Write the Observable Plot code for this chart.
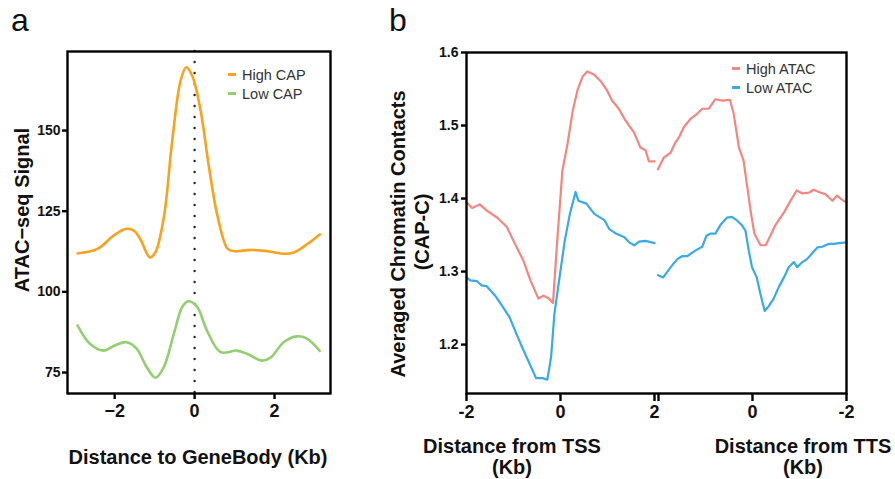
<!DOCTYPE html>
<html>
<head>
<meta charset="utf-8">
<script src="https://cdn.jsdelivr.net/npm/d3@7"></script>
<script src="https://cdn.jsdelivr.net/npm/@observablehq/plot@0.6"></script>
<style>
  body { margin: 0; background: #fff; font-family: "Liberation Sans", Arial, sans-serif; }
  #wrap { position: relative; width: 895px; height: 479px; overflow: hidden; background: #fff; }
  .panel { position: absolute; top: 0; }
  .txt { position: absolute; white-space: nowrap; color: #111; line-height: 1; }
  .bold { font-weight: bold; font-size: 20px; }
  .center { transform: translate(-50%, -50%); }
  .rot { transform: translate(-50%, -50%) rotate(-90deg); }
  .tag { font-size: 32px; font-weight: normal; }
  .leg { position: absolute; font-size: 14.5px; color: #333; }
  .leg .row { display: flex; align-items: center; height: 19px; }
  .leg .sw { display: inline-block; width: 8px; height: 2.5px; margin-right: 6px; }
</style>
</head>
<body>
<div id="wrap"></div>
<script>
// ---------- Panel a data ----------
const seriesA = ["High CAP", "Low CAP"];
const colorsA = ["#FAA21E", "#93CF70"];
const highCapX = [-2.93,-2.43,-2.02,-1.73,-1.52,-1.36,-1.12,-0.98,-0.77,-0.56,-0.35,-0.21,-0.06,0.15,0.36,0.58,0.83,1.0,1.42,1.83,2.25,2.5,2.83,3.13];
const highCapY = [111.9,113.3,117.5,119.5,119.0,116.4,110.7,112.3,123.1,146.9,165.5,169.6,167.0,156.2,138.6,123.1,113.3,112.6,113.0,112.6,111.8,112.3,114.9,117.8];
const lowCapX = [-2.93,-2.62,-2.28,-2.0,-1.7,-1.45,-1.2,-0.98,-0.77,-0.52,-0.31,-0.16,0.06,0.31,0.65,1.06,1.31,1.69,1.9,2.23,2.56,2.81,3.13];
const lowCapY = [89.6,83.9,81.8,83.4,84.4,82.4,76.7,73.4,76.7,87.0,95.3,97.1,95.4,88.0,81.3,81.8,80.8,78.7,79.6,84.4,86.2,85.5,81.7];
const ticksAX = [-2, 0, 2];
const ticksAY = [75, 100, 125, 150];
const domainAX = [-3.18, 3.4];
const domainAY = [68.5, 174.5];

// ---------- Panel b data ----------
const seriesB = ["High ATAC", "Low ATAC"];
const colorsB = ["#F4867F", "#37ABE6"];
const tssHighX = [-2,-1.88,-1.72,-1.56,-1.35,-1.14,-1.0,-0.79,-0.64,-0.47,-0.36,-0.25,-0.16,-0.07,0.04,0.15,0.26,0.36,0.47,0.57,0.71,0.85,0.99,1.1,1.24,1.38,1.56,1.70,1.81,1.88,2.0];
const tssHighY = [1.395,1.387,1.392,1.383,1.374,1.361,1.342,1.315,1.288,1.263,1.267,1.263,1.257,1.342,1.438,1.475,1.520,1.548,1.567,1.574,1.570,1.561,1.548,1.534,1.523,1.507,1.491,1.470,1.466,1.451,1.451];
const tssLowX = [-2,-1.92,-1.78,-1.68,-1.57,-1.39,-1.22,-1.08,-0.94,-0.80,-0.66,-0.52,-0.38,-0.28,-0.20,-0.13,-0.02,0.09,0.2,0.32,0.38,0.55,0.72,0.94,1.04,1.18,1.36,1.46,1.57,1.67,1.81,2.0];
const tssLowY = [1.292,1.288,1.287,1.281,1.280,1.267,1.251,1.237,1.215,1.194,1.174,1.154,1.154,1.152,1.183,1.242,1.292,1.342,1.379,1.409,1.397,1.393,1.379,1.370,1.358,1.352,1.347,1.340,1.336,1.341,1.342,1.339];
const ttsHighX = [2.01,1.89,1.74,1.64,1.57,1.46,1.32,1.18,1.07,0.93,0.79,0.64,0.48,0.40,0.29,0.19,0.11,0.03,-0.04,-0.17,-0.28,-0.38,-0.49,-0.67,-0.81,-0.94,-1.06,-1.20,-1.30,-1.45,-1.55,-1.70,-1.80,-1.91,-2.0];
const ttsHighY = [1.440,1.456,1.463,1.477,1.483,1.498,1.509,1.516,1.523,1.523,1.536,1.534,1.535,1.516,1.470,1.452,1.415,1.379,1.352,1.336,1.336,1.349,1.364,1.381,1.397,1.411,1.407,1.408,1.412,1.408,1.406,1.397,1.404,1.398,1.395];
const ttsLowX = [2.01,1.90,1.74,1.60,1.50,1.39,1.21,1.07,0.98,0.89,0.79,0.68,0.54,0.44,0.33,0.22,0.15,0.08,0.01,-0.09,-0.17,-0.26,-0.35,-0.45,-0.56,-0.67,-0.77,-0.88,-0.95,-1.06,-1.16,-1.27,-1.38,-1.48,-1.63,-1.73,-1.84,-2.0];
const ttsLowY = [1.295,1.292,1.306,1.317,1.321,1.321,1.329,1.334,1.349,1.352,1.352,1.364,1.374,1.375,1.370,1.363,1.356,1.329,1.306,1.292,1.269,1.246,1.253,1.263,1.279,1.292,1.306,1.313,1.306,1.313,1.317,1.325,1.333,1.334,1.338,1.338,1.339,1.340];
const ticksBY = [1.2, 1.3, 1.4, 1.5, 1.6];
const tickLabelsBX = ["-2", "0", "2", "", "0", "-2"];
const gapB = 0.085;
const domainBY = [1.133, 1.6];

const FONT = '"Liberation Sans", Arial, sans-serif';
const INK = "#000000";
const wrap = document.getElementById("wrap");
const fmtMinus = d => (d < 0 ? "\u2212" + Math.abs(d) : String(d));

// ---------- Panel a ----------
const dataA = [
  ...highCapX.map((x, i) => ({x, y: highCapY[i], series: seriesA[0]})),
  ...lowCapX.map((x, i) => ({x, y: lowCapY[i], series: seriesA[1]}))
];
const chartA = Plot.plot({
  width: 380, height: 479,
  marginLeft: 67, marginRight: 50, marginTop: 51, marginBottom: 86,
  style: {fontFamily: FONT, color: "#111", background: "transparent", overflow: "visible"},
  x: {type: "linear", domain: domainAX},
  y: {type: "linear", domain: domainAY},
  color: {domain: seriesA, range: colorsA},
  marks: [
    Plot.ruleX([0], {stroke: "#222", strokeWidth: 2.4, strokeDasharray: "0.1,10.9", strokeLinecap: "round"}),
    Plot.line(dataA, {x: "x", y: "y", z: "series", stroke: "series", strokeWidth: 2.6, curve: "catmull-rom"}),
    Plot.axisY({ticks: ticksAY, tickSize: 5, tickPadding: 2, label: null, fontSize: 14, fontWeight: "bold", stroke: INK, strokeWidth: 2.4, tickFormat: fmtMinus}),
    Plot.axisX({ticks: ticksAX, tickSize: 6, tickPadding: 5, label: null, fontSize: 18, fontWeight: "bold", stroke: INK, strokeWidth: 2.4, tickFormat: fmtMinus}),
    Plot.frame({stroke: INK, strokeWidth: 2.4, strokeLinecap: "square"})
  ]
});
const pa = document.createElement("div");
pa.className = "panel"; pa.style.left = "0px";
pa.appendChild(chartA);
wrap.appendChild(pa);

// ---------- Panel b ----------
const tssPos = x => x + 2;
const ttsPos = x => 4 + gapB + (2 - x);
const domainBX = [0, 8 + gapB];
const dataB = [
  ...tssHighX.map((x, i) => ({pos: tssPos(x), y: tssHighY[i], series: seriesB[0], seg: "tss-high"})),
  ...tssLowX.map((x, i) => ({pos: tssPos(x), y: tssLowY[i], series: seriesB[1], seg: "tss-low"})),
  ...ttsHighX.map((x, i) => ({pos: ttsPos(x), y: ttsHighY[i], series: seriesB[0], seg: "tts-high"})),
  ...ttsLowX.map((x, i) => ({pos: ttsPos(x), y: ttsLowY[i], series: seriesB[1], seg: "tts-low"}))
];
const tickPosB = [tssPos(-2), tssPos(0), tssPos(2), ttsPos(2), ttsPos(0), ttsPos(-2)];
const chartB = Plot.plot({
  width: 515, height: 479,
  marginLeft: 86, marginRight: 49, marginTop: 52, marginBottom: 86,
  style: {fontFamily: FONT, color: "#111", background: "transparent", overflow: "visible"},
  x: {type: "linear", domain: domainBX},
  y: {type: "linear", domain: domainBY},
  color: {domain: seriesB, range: colorsB},
  marks: [
    Plot.line(dataB, {x: "pos", y: "y", z: "seg", stroke: "series", strokeWidth: 2.2, strokeLinejoin: "round"}),
    Plot.axisY({ticks: ticksBY, tickSize: 5, tickPadding: 3, label: null, fontSize: 14, fontWeight: "bold", stroke: INK, strokeWidth: 2.4, tickFormat: d => d.toFixed(1)}),
    Plot.axisX({ticks: tickPosB, tickSize: 8, tickPadding: 4, label: null, fontSize: 18, fontWeight: "bold", stroke: INK, strokeWidth: 2.4,
      tickFormat: d => tickLabelsBX[tickPosB.findIndex(t => Math.abs(t - d) < 1e-6)] ?? ""}),
    Plot.frame({stroke: INK, strokeWidth: 2.4, strokeLinecap: "square"})
  ]
});
const pb = document.createElement("div");
pb.className = "panel"; pb.style.left = "380px";
pb.appendChild(chartB);
wrap.appendChild(pb);

// Tick-label text should not be stroked: clear stroke on axis text groups
document.querySelectorAll('.panel g[aria-label$="tick label"]').forEach(g => { g.removeAttribute("stroke"); g.removeAttribute("stroke-width"); });

// ---------- Text labels ----------
function addText(text, cls, left, top) {
  const d = document.createElement("div");
  d.className = "txt " + cls;
  d.textContent = text;
  d.style.left = left + "px";
  d.style.top = top + "px";
  wrap.appendChild(d);
  return d;
}
addText("a", "tag", 11, 4);
addText("b", "tag", 389, 4);
addText("ATAC\u2212seq Signal", "bold rot", 22, 210);
addText("Distance to GeneBody (Kb)", "bold center", 198, 457);
addText("Averaged Chromatin Contacts", "bold rot", 398, 234);
addText("(CAP-C)", "bold rot", 422, 232);
addText("Distance from TSS", "bold center", 512, 446);
addText("(Kb)", "bold center", 512, 467);
addText("Distance from TTS", "bold center", 803, 446);
addText("(Kb)", "bold center", 803, 467);

// ---------- Legends ----------
function addLegend(names, colors, left, top) {
  const lg = document.createElement("div");
  lg.className = "leg";
  lg.style.left = left + "px";
  lg.style.top = top + "px";
  names.forEach((n, i) => {
    const r = document.createElement("div");
    r.className = "row";
    const s = document.createElement("span");
    s.className = "sw";
    s.style.background = colors[i];
    r.appendChild(s);
    r.appendChild(document.createTextNode(n));
    lg.appendChild(r);
  });
  wrap.appendChild(lg);
}
addLegend(seriesA, colorsA, 228, 65);
addLegend(seriesB, colorsB, 732, 59);
</script>
</body>
</html>
